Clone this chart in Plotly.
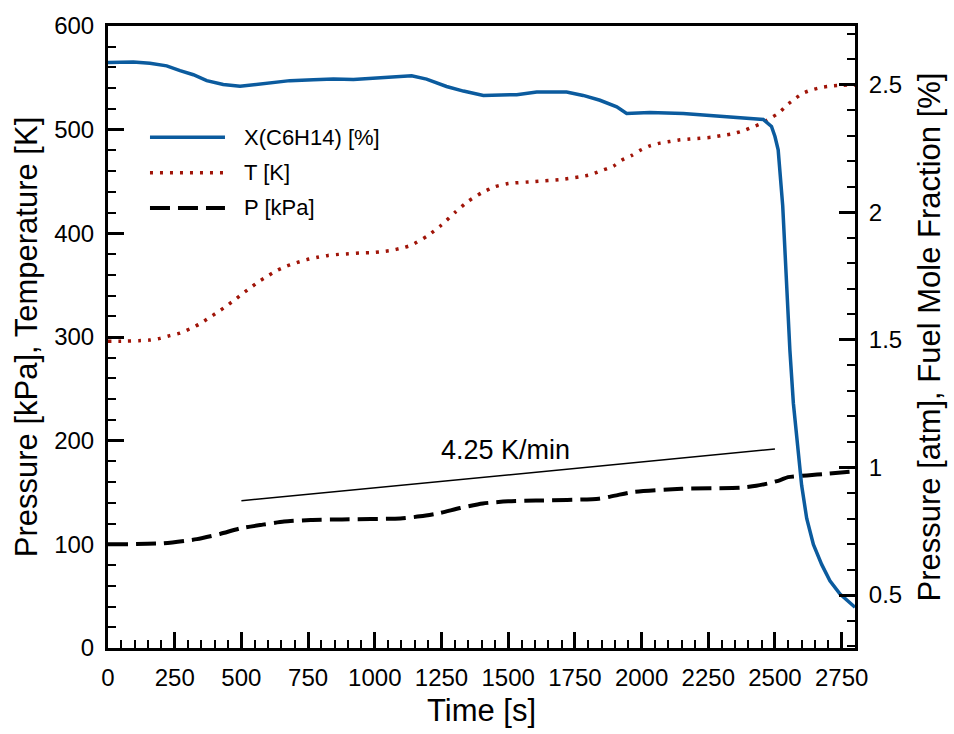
import plotly.graph_objects as go

# ---- data ----
t_x = [0, 95, 157, 220, 270, 320, 370, 432, 495, 557, 620, 682, 770, 845, 920, 995, 1070, 1138, 1194,
       1269, 1332, 1407, 1532, 1607, 1719, 1781, 1844, 1907, 1944, 2031, 2156, 2281, 2406, 2456, 2487,
       2500, 2512, 2521, 2529, 2537, 2546, 2556, 2569, 2584, 2600, 2619, 2644, 2675, 2706, 2744, 2800]
x_fuel = [2.588, 2.590, 2.585, 2.575, 2.556, 2.540, 2.517, 2.502, 2.495, 2.502, 2.508, 2.517, 2.520,
          2.523, 2.521, 2.526, 2.530, 2.536, 2.523, 2.494, 2.476, 2.459, 2.462, 2.472, 2.472, 2.459,
          2.440, 2.414, 2.388, 2.392, 2.388, 2.378, 2.371, 2.365, 2.337, 2.298, 2.246, 2.143, 2.027,
          1.859, 1.665, 1.459, 1.252, 1.085, 0.930, 0.800, 0.698, 0.620, 0.556, 0.504, 0.452]

t_T = [0, 50, 116, 155, 195, 232, 270, 307, 342, 376, 410, 442, 475, 506, 538, 570, 602, 635, 671, 707,
       745, 785, 825, 865, 902, 942, 982, 1021, 1061, 1099, 1137, 1200, 1250, 1300, 1350, 1400, 1450,
       1500, 1600, 1700, 1800, 1844, 1894, 1925, 1963, 1994, 2031, 2069, 2106, 2144, 2181, 2219, 2263,
       2300, 2338, 2379, 2419, 2450, 2481, 2515, 2544, 2575, 2605, 2642, 2679, 2717, 2755, 2800]
temp = [296, 296, 296.5, 297, 298.7, 301.3, 303.8, 307.9, 312.4, 318, 323.8, 329.5, 335.9, 342.2, 348.3,
        354.3, 359.4, 364.5, 368.6, 371.7, 374.6, 376.9, 378.7, 379.7, 380.3, 381, 381.3, 382.2, 383.5,
        385.7, 388.6, 398, 408, 420, 431, 439, 445, 448, 450, 452, 456, 460, 464.8, 470.5, 475.2, 480,
        484.4, 487, 488.6, 490.2, 491, 491.7, 492.7, 494.3, 495.9, 498.7, 502.9, 506, 510.8, 516.2,
        523.5, 529.8, 535.2, 538.7, 541, 542.2, 542.9, 543]

t_P = [0, 206, 333, 420, 497, 580, 660, 760, 877, 1096, 1170, 1240, 1320, 1405, 1500, 1604, 1840, 1900,
       1968, 2150, 2369, 2430, 2478, 2520, 2549, 2620, 2695, 2800]
press = [100, 101, 105, 110, 115.5, 119, 122, 123.5, 124, 125, 127, 130, 135, 139.4, 141.5, 142.2, 144,
         147, 150.5, 153.6, 154.6, 156.5, 159, 162, 164.8, 166.5, 168, 170.5]

rate_t = [500, 2500]
rate_v = [142, 192]
rate_label = "4.25 K/min"

names = ["X(C6H14) [%]", "T [K]", "P [kPa]"]

FONT = "Liberation Sans, Arial, Helvetica, sans-serif"
BLUE = "#0b5b9e"
RED = "#a01408"

fig = go.Figure()
fig.add_trace(go.Scatter(x=t_T, y=temp, mode="lines", name=names[1], showlegend=False,
                         line=dict(color=RED, width=3.5, dash="3px,7px", shape="spline", smoothing=0.6)))
fig.add_trace(go.Scatter(x=t_P, y=press, mode="lines", name=names[2], showlegend=False,
                         line=dict(color="black", width=4, dash="20px,8px", shape="spline", smoothing=0.6)))
fig.add_trace(go.Scatter(x=rate_t, y=rate_v, mode="lines", showlegend=False,
                         line=dict(color="black", width=1.5)))
fig.add_trace(go.Scatter(x=t_x, y=x_fuel, mode="lines", name=names[0], yaxis="y2", showlegend=False,
                         line=dict(color=BLUE, width=3.5)))

fig.add_annotation(x=1490, y=191, text=rate_label, showarrow=False, xref="x", yref="y",
                   font=dict(family=FONT, size=27, color="black"))

# manual legend
leg_y = [0.8211, 0.764, 0.7075]
leg_style = [dict(color=BLUE, width=3.5), dict(color=RED, width=3.5, dash="3px,7px"),
             dict(color="black", width=4, dash="20px,8px")]
for yy, st, nm in zip(leg_y, leg_style, names):
    fig.add_shape(type="line", xref="paper", yref="paper", x0=0.0562, x1=0.1566, y0=yy, y1=yy, line=st)
    fig.add_annotation(xref="paper", yref="paper", x=0.1794, y=yy, text=nm, showarrow=False,
                       xanchor="left", yanchor="middle", font=dict(family=FONT, size=22, color="black"))

axis_common = dict(showline=True, linecolor="black", linewidth=3, showgrid=False, zeroline=False,
                   ticks="inside", ticklen=16, tickwidth=3, tickcolor="black",
                   tickfont=dict(family=FONT, size=24, color="black"))

fig.update_layout(
    width=954, height=734,
    margin=dict(l=108, r=99, t=18, b=86),
    paper_bgcolor="white", plot_bgcolor="white",
    font=dict(family=FONT, color="black"),
    xaxis=dict(range=[0, 2800], dtick=250, tick0=0, mirror=True,
               minor=dict(dtick=50, tick0=0, ticks="inside", ticklen=8, tickwidth=2, tickcolor="black"),
               title=dict(text="Time [s]", font=dict(family=FONT, size=31), standoff=10),
               ticklabelstandoff=6, **axis_common),
    yaxis=dict(range=[0, 600], dtick=100, tick0=0,
               minor=dict(dtick=20, tick0=0, ticks="inside", ticklen=8, tickwidth=2, tickcolor="black"),
               title=dict(text="Pressure [kPa], Temperature [K]", font=dict(family=FONT, size=31), standoff=8),
               ticklabelstandoff=6, **axis_common),
    yaxis2=dict(range=[0.2922, 2.7312], overlaying="y", side="right", tickvals=[0.5, 1, 1.5, 2, 2.5],
                minor=dict(dtick=0.1, tick0=0, ticks="inside", ticklen=8, tickwidth=2, tickcolor="black"),
                title=dict(text="Pressure [atm], Fuel Mole Fraction [%]", font=dict(family=FONT, size=31), standoff=18),
                ticklabelstandoff=6, **axis_common),
)

fig.write_html("out.html")
